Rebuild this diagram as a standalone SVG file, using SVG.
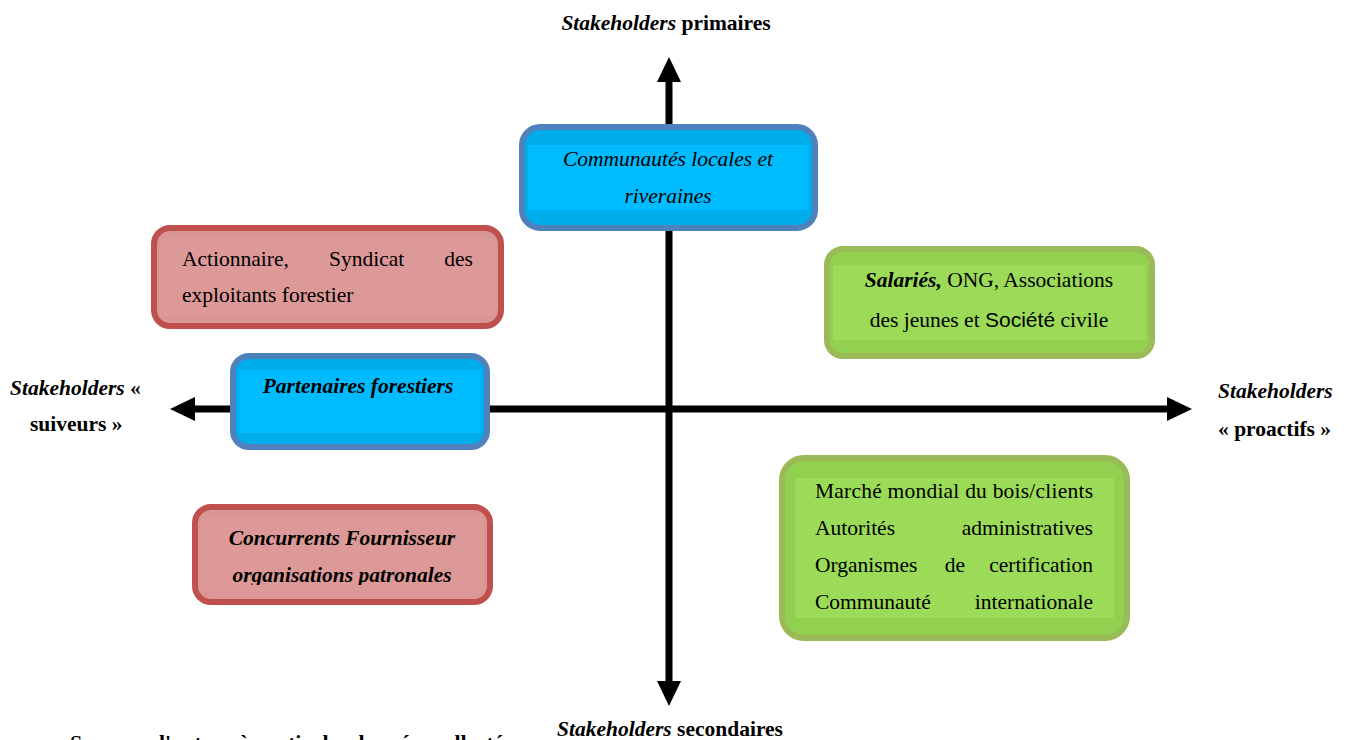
<svg xmlns="http://www.w3.org/2000/svg" width="1346" height="740" viewBox="0 0 1346 740">
<style>
text{font-family:"Liberation Serif","Times New Roman",serif;fill:#000;}
.t{font-size:21.5px;}
.lab{font-size:21.5px;font-weight:bold;}
.i{font-style:italic;}
.b{font-weight:bold;}
.bi{font-weight:bold;font-style:italic;}
.blue{fill:#00ADEB;stroke:#4F81BD;stroke-width:6;}
.blueIn{fill:#00BBFD;}
.red{fill:#D99694;stroke:#C0504D;stroke-width:6;}
.redIn{fill:#DD9997;}
.green{fill:#92D050;stroke:#9BBB59;stroke-width:6;}
.greenIn{fill:#9BDB57;}
.axis{stroke:#000;stroke-width:7;fill:none;}
</style>
<defs>
<clipPath id="clipConc"><rect x="195" y="507" width="296" height="78"/></clipPath>
</defs>
<rect width="1346" height="740" fill="#fff"/>

<g id="connectors">
<line class="axis" x1="669" y1="78" x2="669" y2="686"/>
<polygon points="669,57 657,82 681,82" fill="#000"/>
<polygon points="669,706 657,681 681,681" fill="#000"/>
<line class="axis" x1="190" y1="409" x2="1172" y2="409"/>
<polygon points="170,409 195,397 195,421" fill="#000"/>
<polygon points="1192,409 1167,397 1167,421" fill="#000"/>
</g>

<g id="label-top"><text class="lab" x="666" y="30" text-anchor="middle"><tspan class="i">Stakeholders</tspan> primaires</text></g>
<g id="label-bottom"><text class="lab" x="557" y="736"><tspan class="i">Stakeholders</tspan> secondaires</text></g>
<g id="label-left">
<text class="lab" x="10" y="395"><tspan class="i">Stakeholders</tspan> «</text>
<text class="lab" x="30" y="431">suiveurs »</text>
</g>
<g id="label-right">
<text class="lab i" x="1218" y="398">Stakeholders</text>
<text class="lab" x="1218" y="436">« proactifs »</text>
</g>

<g id="node-communautes">
<rect class="blue" x="522" y="127" width="293" height="101" rx="18"/>
<rect class="blueIn" x="528" y="145" width="281" height="65"/>
<text class="t i" x="668" y="166" text-anchor="middle" font-size="22">Communautés locales et</text>
<text class="t i" x="668" y="203" text-anchor="middle" font-size="22">riveraines</text>
</g>

<g id="node-actionnaire">
<rect class="red" x="154" y="228" width="347" height="98" rx="16"/>
<rect class="redIn" x="160" y="238" width="335" height="78"/>
<text class="t" x="182" y="266">Actionnaire,</text>
<text class="t" x="329" y="266">Syndicat</text>
<text class="t" x="473" y="266" text-anchor="end">des</text>
<text class="t" x="182" y="302">exploitants forestier</text>
</g>

<g id="node-partenaires">
<rect class="blue" x="233" y="356" width="254" height="91" rx="16"/>
<rect class="blueIn" x="239" y="370" width="242" height="63"/>
<text class="t bi" x="358" y="393" text-anchor="middle">Partenaires forestiers</text>
</g>

<g id="node-concurrents">
<rect class="red" x="195" y="507" width="295" height="95" rx="16"/>
<rect class="redIn" x="201" y="517" width="283" height="75"/>
<g clip-path="url(#clipConc)">
<text class="t bi" x="342" y="545" text-anchor="middle">Concurrents Fournisseur</text>
<text class="t bi" x="342" y="582" text-anchor="middle">organisations patronales</text>
</g>
</g>

<g id="node-salaries">
<rect class="green" x="827" y="249" width="325" height="107" rx="16"/>
<rect class="greenIn" x="833" y="265" width="313" height="75"/>
<text class="t" x="989" y="287" text-anchor="middle"><tspan class="bi">Salariés,</tspan> ONG, Associations</text>
<text class="t" x="989" y="327" text-anchor="middle">des jeunes et <tspan font-family="'Liberation Sans',Arial,sans-serif" font-size="21">Société</tspan> civile</text>
</g>

<g id="node-marche">
<rect class="green" x="782" y="458" width="345" height="180" rx="22"/>
<rect class="greenIn" x="795" y="478" width="319" height="140"/>
<text class="t" x="815" y="498" textLength="278" lengthAdjust="spacing">Marché mondial du bois/clients</text>
<text class="t" x="815" y="535">Autorités</text>
<text class="t" x="1093" y="535" text-anchor="end">administratives</text>
<text class="t" x="815" y="572">Organismes</text>
<text class="t" x="955" y="572" text-anchor="middle">de</text>
<text class="t" x="1093" y="572" text-anchor="end">certification</text>
<text class="t" x="815" y="609">Communauté</text>
<text class="t" x="1093" y="609" text-anchor="end">internationale</text>
</g>

<g id="caption">
<text x="70" y="750" font-size="22" font-weight="bold">Source : d'auteur à partir des données collectées</text>
</g>
</svg>
